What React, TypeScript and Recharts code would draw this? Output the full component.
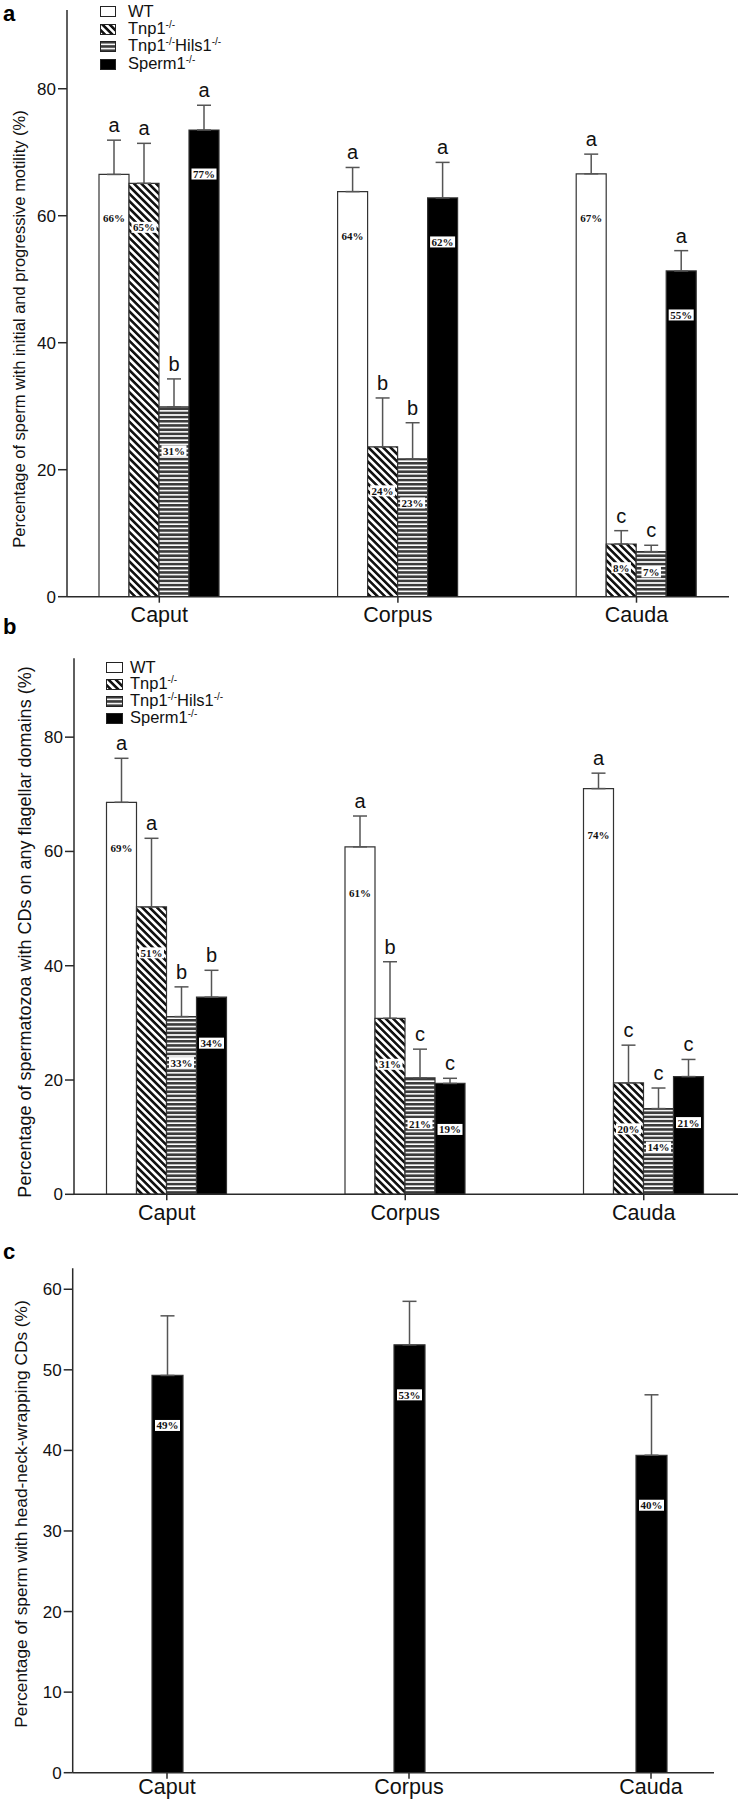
import React from 'react';
import { BarChart, Bar, XAxis, YAxis, ErrorBar, LabelList, Legend } from 'recharts';

const regions = ['Caput', 'Corpus', 'Cauda'];

// a: sperm with initial and progressive motility
const motWT = [66.5, 63.8, 66.6];
const motWTErr = [5.4, 3.8, 3.1];
const motWTText = ['66%', '64%', '67%'];
const motWTLetter = ['a', 'a', 'a'];
const motTnp1 = [65.1, 23.6, 8.3];
const motTnp1Err = [6.3, 7.7, 2.1];
const motTnp1Text = ['65%', '24%', '8%'];
const motTnp1Letter = ['a', 'b', 'c'];
const motHils = [29.9, 21.7, 7.1];
const motHilsErr = [4.4, 5.7, 1.0];
const motHilsText = ['31%', '23%', '7%'];
const motHilsLetter = ['b', 'b', 'c'];
const motSperm = [73.5, 62.8, 51.3];
const motSpermErr = [3.9, 5.6, 3.2];
const motSpermText = ['77%', '62%', '55%'];
const motSpermLetter = ['a', 'a', 'a'];

// b: spermatozoa with CDs on any flagellar domains
const cdWT = [68.6, 60.8, 71.0];
const cdWTErr = [7.7, 5.4, 2.7];
const cdWTText = ['69%', '61%', '74%'];
const cdWTLetter = ['a', 'a', 'a'];
const cdTnp1 = [50.3, 30.8, 19.5];
const cdTnp1Err = [12.0, 9.9, 6.6];
const cdTnp1Text = ['51%', '31%', '20%'];
const cdTnp1Letter = ['a', 'b', 'c'];
const cdHils = [31.1, 20.4, 15.0];
const cdHilsErr = [5.2, 5.0, 3.6];
const cdHilsText = ['33%', '21%', '14%'];
const cdHilsLetter = ['b', 'c', 'c'];
const cdSperm = [34.5, 19.4, 20.6];
const cdSpermErr = [4.7, 0.9, 3.0];
const cdSpermText = ['34%', '19%', '21%'];
const cdSpermLetter = ['b', 'c', 'c'];

// c: head-neck-wrapping CDs (Sperm1-/- only)
const hnSperm = [49.3, 53.1, 39.4];
const hnSpermErr = [7.4, 5.4, 7.5];
const hnSpermText = ['49%', '53%', '40%'];

const ticksAB = [0, 20, 40, 60, 80];
const ticksC = [0, 10, 20, 30, 40, 50, 60];

// legend names: [text, superscript, text, superscript...]
const legendNames = [['WT'], ['Tnp1', '-/-'], ['Tnp1', '-/-', 'Hils1', '-/-'], ['Sperm1', '-/-']];

const fills = ['#ffffff', 'url(#hatchDiag)', 'url(#hatchHoriz)', '#000000'];
const keys = ['WT', 'Tnp1', 'Hils', 'Sperm'];
const SANS = '"Liberation Sans", Arial, Helvetica, sans-serif';
const SERIF = '"Liberation Serif", "Times New Roman", serif';
const AXIS = '#2a2a2a';

function buildRows(series) {
  return regions.map((region, i) => {
    const row: any = { region };
    series.forEach((s) => {
      row[s.key] = s.values[i];
      row[s.key + 'Err'] = [0, s.errors[i]];
    });
    return row;
  });
}

const valueBox = (texts, maxOff) => (props) => {
  const vb = props.viewBox || props;
  const text = texts[props.index];
  if (text == null || vb.height == null) return null;
  const cx = vb.x + vb.width / 2;
  const cy = vb.y + Math.min(maxOff, vb.height * 0.45);
  const fs = 11;
  const w = (text.length - 1) * 0.5 * fs + fs + 3;
  return (
    <g>
      <rect x={cx - w / 2} y={cy - 5.5} width={w} height={11} fill="#fff" />
      <text x={cx} y={cy} dy="0.36em" textAnchor="middle" fontFamily={SERIF} fontWeight="bold" fontSize={fs} fill="#111">
        {text}
      </text>
    </g>
  );
};

const letterLabel = (letters, values, errors) => (props) => {
  const vb = props.viewBox || props;
  const i = props.index;
  if (!letters || letters[i] == null || vb.height == null) return null;
  const pxPer = vb.height / values[i];
  const top = vb.y - errors[i] * pxPer;
  return (
    <text x={vb.x + vb.width / 2} y={top - 8} textAnchor="middle" fontFamily={SANS} fontSize={20} fill="#111">
      {letters[i]}
    </text>
  );
};

function LegendBox({ rowH, swW, swH, gap }) {
  return (
    <div style={{ fontFamily: SANS, fontSize: 16.5, color: '#111', lineHeight: `${rowH}px` }}>
      {legendNames.map((parts, i) => (
        <div key={i} style={{ display: 'flex', alignItems: 'center', height: rowH, whiteSpace: 'nowrap' }}>
          <svg width={swW + 1} height={swH + 1} style={{ display: 'block' }}>
            <rect x={0.5} y={0.5} width={swW} height={swH} fill={fills[i]} stroke="#222" strokeWidth={1} />
          </svg>
          <span style={{ marginLeft: gap }}>
            {parts.map((p, j) =>
              j % 2 === 0 ? (
                <span key={j}>{p}</span>
              ) : (
                <span key={j} style={{ fontSize: 10, position: 'relative', top: -6 }}>{p}</span>
              )
            )}
          </span>
        </div>
      ))}
    </div>
  );
}

function YTitle({ text, x, y, size }) {
  return () => (
    <text x={x} y={y} transform={`rotate(-90 ${x} ${y})`} textAnchor="middle" fontFamily={SANS} fontSize={size} fill="#111">
      {text}
    </text>
  );
}

function Panel({ cfg, series, legend }) {
  const rows = buildRows(series);
  return (
    <div style={{ position: 'absolute', left: 0, top: cfg.top }}>
      <BarChart width={744} height={cfg.height} data={rows} margin={cfg.margin} barGap={0} barSize={cfg.barSize}>
        <XAxis
          dataKey="region"
          interval={0}
          height={cfg.xHeight}
          padding={cfg.pad}
          axisLine={{ stroke: AXIS, strokeWidth: 1.5 }}
          tickLine={{ stroke: AXIS, strokeWidth: 1.5 }}
          tickSize={6}
          tickMargin={cfg.xTickMargin}
          tick={{ fill: '#111', fontSize: 21.5, fontFamily: SANS }}
        />
        <YAxis
          type="number"
          width={60}
          domain={[0, cfg.yMax]}
          ticks={cfg.ticks}
          allowDataOverflow
          axisLine={{ stroke: AXIS, strokeWidth: 1.5 }}
          tickLine={{ stroke: AXIS, strokeWidth: 1.5 }}
          tickSize={9}
          tickMargin={2}
          tick={{ fill: '#111', fontSize: 17, fontFamily: SANS }}
          label={YTitle(cfg.title)}
        />
        {legend && (
          <Legend
            layout="vertical"
            align="center"
            verticalAlign="middle"
            wrapperStyle={{ left: legend.left, top: legend.top, width: 220, height: 75 }}
            content={() => <LegendBox {...legend} />}
          />
        )}
        {series.map((s) => (
          <Bar
            key={s.key}
            dataKey={s.key}
            fill={s.fill}
            stroke="#333"
            strokeWidth={1.2}
            isAnimationActive={false}
          >
            <ErrorBar dataKey={s.key + 'Err'} width={7} strokeWidth={1.5} stroke="#555" isAnimationActive={false} />
            <LabelList dataKey={s.key} content={valueBox(s.texts, cfg.boxOff)} />
            {s.letters && <LabelList dataKey={s.key} content={letterLabel(s.letters, s.values, s.errors)} />}
          </Bar>
        ))}
      </BarChart>
    </div>
  );
}

const seriesA = [
  { key: keys[0], values: motWT, errors: motWTErr, texts: motWTText, letters: motWTLetter, fill: fills[0] },
  { key: keys[1], values: motTnp1, errors: motTnp1Err, texts: motTnp1Text, letters: motTnp1Letter, fill: fills[1] },
  { key: keys[2], values: motHils, errors: motHilsErr, texts: motHilsText, letters: motHilsLetter, fill: fills[2] },
  { key: keys[3], values: motSperm, errors: motSpermErr, texts: motSpermText, letters: motSpermLetter, fill: fills[3] },
];
const seriesB = [
  { key: keys[0], values: cdWT, errors: cdWTErr, texts: cdWTText, letters: cdWTLetter, fill: fills[0] },
  { key: keys[1], values: cdTnp1, errors: cdTnp1Err, texts: cdTnp1Text, letters: cdTnp1Letter, fill: fills[1] },
  { key: keys[2], values: cdHils, errors: cdHilsErr, texts: cdHilsText, letters: cdHilsLetter, fill: fills[2] },
  { key: keys[3], values: cdSperm, errors: cdSpermErr, texts: cdSpermText, letters: cdSpermLetter, fill: fills[3] },
];
const seriesC = [{ key: keys[3], values: hnSperm, errors: hnSpermErr, texts: hnSpermText, letters: null, fill: fills[3] }];

const cfgA = {
  top: 0, height: 640, margin: { top: 10, right: 15, bottom: 13.3, left: 7 }, xHeight: 30, xTickMargin: 4,
  pad: { left: -27, right: -26.8 }, yMax: 92.4, ticks: ticksAB, barSize: 30, boxOff: 44,
  title: { text: 'Percentage of sperm with initial and progressive motility (%)', x: 25, y: 329, size: 16.5 },
};
const cfgB = {
  top: 620, height: 640, margin: { top: 38.3, right: 6, bottom: 35.7, left: 14 }, xHeight: 30, xTickMargin: 4,
  pad: { left: -26.5, right: -25 }, yMax: 93.8, ticks: ticksAB, barSize: 30, boxOff: 46,
  title: { text: 'Percentage of spermatozoa with CDs on any flagellar domains (%)', x: 31, y: 312, size: 18 },
};
const cfgC = {
  top: 1240, height: 561, margin: { top: 28.3, right: 30, bottom: 2.3, left: 12.7 }, xHeight: 26, xTickMargin: 0,
  pad: { left: -26.7, right: -58 }, yMax: 62.6, ticks: ticksC, barSize: 31, boxOff: 50,
  title: { text: 'Percentage of sperm with head-neck-wrapping CDs (%)', x: 27, y: 274, size: 17.3 },
};

export default function App() {
  return (
    <div style={{ position: 'absolute', left: 0, top: 0, width: 744, height: 1801, background: '#fff', overflow: 'hidden' }}>
      <svg width={744} height={1801} style={{ position: 'absolute', left: 0, top: 0 }}>
        <defs>
          <pattern id="hatchDiag" patternUnits="userSpaceOnUse" width="5.2" height="5.2" patternTransform="rotate(-45)">
            <rect width="5.2" height="5.2" fill="#fff" />
            <rect width="2.6" height="5.2" fill="#111" />
          </pattern>
          <pattern id="hatchHoriz" patternUnits="userSpaceOnUse" width="8" height="4.2">
            <rect width="8" height="4.2" fill="#fff" />
            <rect width="8" height="2.6" fill="#3c3c3c" />
          </pattern>
        </defs>
        <text x={3} y={21} fontFamily={SANS} fontWeight="bold" fontSize={22} fill="#000">a</text>
        <text x={3} y={634} fontFamily={SANS} fontWeight="bold" fontSize={22} fill="#000">b</text>
        <text x={3} y={1259} fontFamily={SANS} fontWeight="bold" fontSize={22} fill="#000">c</text>
      </svg>
      <Panel cfg={cfgA} series={seriesA} legend={{ left: 100, top: 3, rowH: 17.5, swW: 15, swH: 10, gap: 12 }} />
      <Panel cfg={cfgB} series={seriesB} legend={{ left: 106, top: 39, rowH: 17, swW: 16, swH: 10, gap: 7 }} />
      <Panel cfg={cfgC} series={seriesC} legend={null} />
    </div>
  );
}
